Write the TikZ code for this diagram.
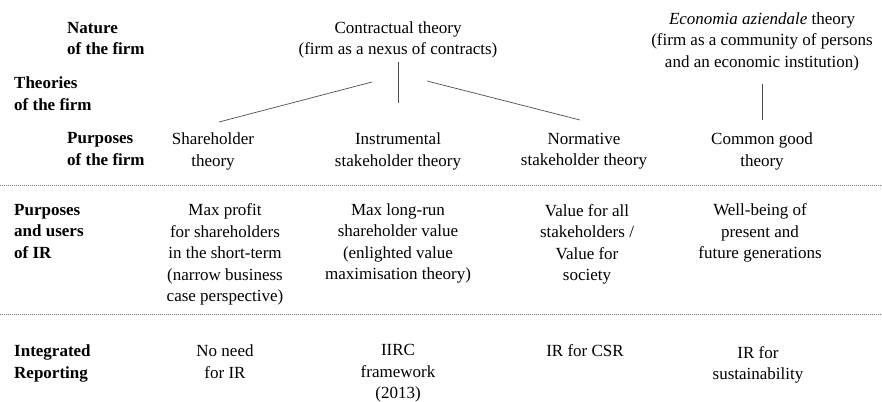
\documentclass[tikz,border=0pt]{standalone}
\usepackage{fontspec}
\setmainfont{Liberation Serif}
\begin{document}
\begin{tikzpicture}[x=1pt,y=-1pt,
  txt/.style={font=\fontsize{17}{21.5}\selectfont, inner sep=0pt, align=center, anchor=north},
  rowlabel/.style={font=\fontsize{17}{21.5}\selectfont\bfseries, inner sep=0pt, align=left, anchor=north west},
  link/.style={draw=black!70, line width=0.7pt},
  divider/.style={draw=black!55, line width=0.6pt, dash pattern=on 0.8pt off 1.2pt}]
\useasboundingbox (0,0) rectangle (882,401);

% row labels
\node[rowlabel] (nature)   at (67,22)    {Nature\\of the firm};
\node[rowlabel] (theories) at (14,77)    {Theories\\of the firm};
\node[rowlabel] (purpfirm) at (67,132.5) {Purposes\\of the firm};
\node[rowlabel] (purpir)   at (14,204)   {Purposes\\and users\\of IR};
\node[rowlabel] (intrep)   at (14,344.5) {Integrated\\Reporting};

% nature of the firm
\node[txt] (contract) at (398,21.5) {Contractual theory\\(firm as a nexus of contracts)};
\node[txt] (economia) at (762,12.5) {\textit{Economia aziendale} theory\\(firm as a community of persons\\and an economic institution)};

% purposes of the firm
\node[txt] (share)  at (213,133) {Shareholder\\theory};
\node[txt] (instr)  at (398,133) {Instrumental\\stakeholder theory};
\node[txt] (norm)   at (584,133) {Normative\\stakeholder theory};
\node[txt] (common) at (762,133) {Common good\\theory};

% purposes and users of IR
\node[txt] (pShare)  at (225,203.5) {Max profit\\for shareholders\\in the short-term\\(narrow business\\case perspective)};
\node[txt] (pInstr)  at (398,203.5) {Max long-run\\shareholder value\\(enlighted value\\maximisation theory)};
\node[txt] (pNorm)   at (587,204)   {Value for all\\stakeholders /\\Value for\\society};
\node[txt] (pCommon) at (760,203.5) {Well-being of\\present and\\future generations};

% integrated reporting
\node[txt] (rShare)  at (225,344.5) {No need\\for IR};
\node[txt] (rInstr)  at (398,344.5) {IIRC\\framework\\(2013)};
\node[txt] (rNorm)   at (585,344.5) {IR for CSR};
\node[txt] (rCommon) at (758,346)   {IR for\\sustainability};

% branch end points
\coordinate (cMidTop) at (398,62);
\coordinate (cMidBot) at (398,103);
\coordinate (cLeft)   at (372,82);
\coordinate (sTop)    at (219,122);
\coordinate (cRight)  at (427,81);
\coordinate (nTop)    at (580,120);
\coordinate (eTop)    at (762,84);
\coordinate (gTop)    at (762,120);

\draw[link] (cMidTop) -- (cMidBot);
\draw[link] (cLeft) -- (sTop);
\draw[link] (cRight) -- (nTop);
\draw[link] (eTop) -- (gTop);

% row separators
\coordinate (d1a) at (0,185);   \coordinate (d1b) at (882,185);
\coordinate (d2a) at (0,314);   \coordinate (d2b) at (882,314);
\draw[divider] (d1a) -- (d1b);
\draw[divider] (d2a) -- (d2b);
\end{tikzpicture}
\end{document}
